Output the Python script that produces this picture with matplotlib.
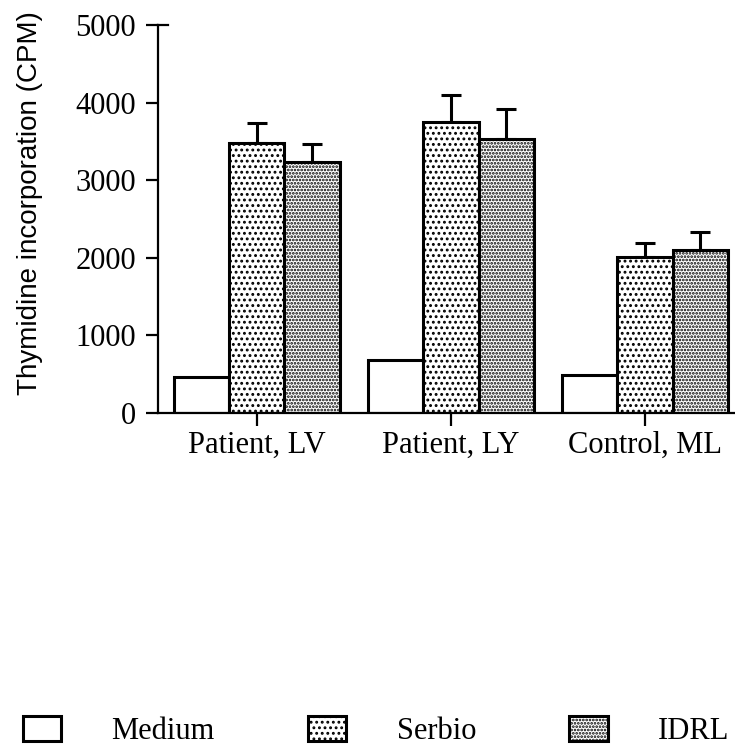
import numpy as np
import matplotlib.pyplot as plt

# Data
groups = ['Patient, LV', 'Patient, LY', 'Control, ML']
series = ['Medium', 'Serbio', 'IDRL']
medium = [465, 685, 490]
serbio = [3480, 3750, 2010]
idrl = [3235, 3530, 2100]
serbio_err = [258, 348, 181]
idrl_err = [231, 387, 232]

hatches = ['', '...', '.....']

plt.rcParams['hatch.linewidth'] = 1.3
fig = plt.figure(figsize=(7.35, 7.47), dpi=100)
ax = fig.add_axes([158 / 735, 1 - 413 / 747, 577 / 735, 388 / 747])

x = np.arange(len(groups))
w = 0.284
vals = [medium, serbio, idrl]
errs = [None, serbio_err, idrl_err]
handles = []
for i, (v, e, h) in enumerate(zip(vals, errs, hatches)):
    pos = x + (i - 1) * w
    b = ax.bar(pos, v, w, color='white', edgecolor='black', linewidth=2.2,
               hatch=h, label=series[i], zorder=2)
    handles.append(b)
    if e is not None:
        ax.errorbar(pos, v, yerr=[np.zeros(len(e)), e], fmt='none',
                    ecolor='black', elinewidth=2.2, capsize=7, capthick=2.2,
                    zorder=1)

ax.set_xlim(-0.51, 2.464)
ax.set_ylim(0, 5000)
ax.set_yticks([0, 1000, 2000, 3000, 4000, 5000])
ax.set_xticks(x)
ax.set_xticklabels(groups)
for s in ['top', 'right']:
    ax.spines[s].set_visible(False)
for s in ['left', 'bottom']:
    ax.spines[s].set_linewidth(1.6)
ax.tick_params(axis='both', direction='out', length=9, width=1.6,
               labelsize=22)
ax.tick_params(axis='y', pad=7)
ax.tick_params(axis='x', pad=4)
for lab in ax.get_xticklabels() + ax.get_yticklabels():
    lab.set_family(['Liberation Serif', 'DejaVu Serif'])
# top tick crosses the spine
ax.plot([0, 10 / 577], [1, 1], transform=ax.transAxes, color='black',
        linewidth=1.6, clip_on=False)

fig.text(30 / 735, 1 - 203 / 747, 'Thymidine incorporation (CPM)',
         rotation=90, ha='center', va='center', fontsize=20,
         family=['Liberation Sans', 'DejaVu Sans'])

fig.legend(handles=handles, labels=series, loc='center left',
           bbox_to_anchor=(23 / 735, 1 - 731 / 747), ncol=3, frameon=False,
           borderaxespad=0, borderpad=0, handlelength=1.25,
           handleheight=0.9, handletextpad=1.65, columnspacing=3.05,
           prop={'family': ['Liberation Serif', 'DejaVu Serif'], 'size': 22})

fig.savefig('out.png', dpi=100)
